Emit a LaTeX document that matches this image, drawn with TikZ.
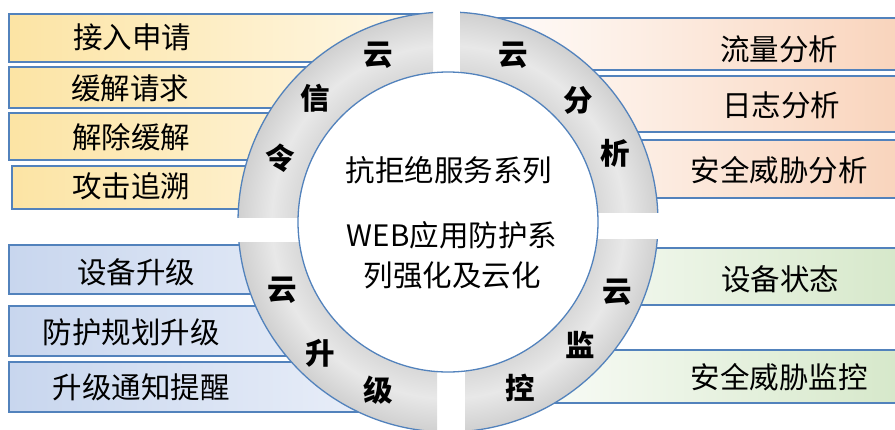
\documentclass[tikz,border=0pt]{standalone}
\usepackage{fontspec}
\setmainfont{Noto Sans CJK SC}
\definecolor{bord}{HTML}{5282BC}
\definecolor{ylw}{HTML}{FCE4A4}
\definecolor{ylwl}{HTML}{FFF8E8}
\definecolor{blu}{HTML}{C8D6EE}
\definecolor{blul}{HTML}{EEF2FA}
\definecolor{org}{HTML}{F9D4BC}
\definecolor{grn}{HTML}{D6E8CA}
\definecolor{ringA}{HTML}{FFFFFF}
\definecolor{ringB}{HTML}{D8D8D8}
\definecolor{ringM}{HTML}{E8E8E8}
\definecolor{ringC}{HTML}{D0D0D0}
\pgfdeclareradialshading{ringshade}{\pgfpoint{0bp}{0bp}}{color(0bp)=(ringA); color(17.5bp)=(ringA); color(17.8bp)=(ringB); color(21bp)=(ringM); color(25bp)=(ringC); color(50bp)=(ringC)}
\tikzset{
  boxline/.style={draw=bord, line width=1.3pt},
  ybox/.style={boxline, left color=ylw, middle color=ylw, right color=ylwl},
  bbox/.style={boxline, left color=blu, middle color=blu, right color=blul},
  obox/.style={boxline, left color=white, middle color=org, right color=org},
  gbox/.style={boxline, left color=white, middle color=grn, right color=grn},
  lbl/.style={inner sep=0pt, font=\fontsize{29.5}{30}\selectfont, text=black},
  ringlbl/.style={inner sep=0pt, font=\fontsize{29.5}{30}\selectfont\bfseries, text=black},
}
\begin{document}
\begin{tikzpicture}[x=1pt,y=-1pt]
\useasboundingbox (0,0) rectangle (895,429);
\coordinate (C) at (448,222);
% boxes
\path[ybox] (9,14) rectangle (430,62);
\path[ybox] (9,67) rectangle (430,108);
\path[ybox] (9,113) rectangle (430,160);
\path[ybox] (12,166) rectangle (430,209);
\path[bbox] (9,245) rectangle (430,294);
\path[bbox] (9,306) rectangle (430,356);
\path[bbox] (9,362) rectangle (430,412);
\path[obox] (463,18) rectangle (900,70);
\path[obox] (463,76) rectangle (900,132);
\path[obox] (463,140) rectangle (900,198);
\path[gbox] (468,248) rectangle (900,305);
\path[gbox] (468,350) rectangle (900,403);
% ring quadrants
\begin{scope}
  \clip (0,0) rectangle (433,217);
  \shade[shading=ringshade] (C) circle[radius=210];
  \draw[bord, line width=1.3pt] (C) circle[radius=210];
\end{scope}
\begin{scope}
  \clip (460,0) rectangle (900,212);
  \shade[shading=ringshade] (C) circle[radius=210];
  \draw[bord, line width=1.3pt] (C) circle[radius=210];
\end{scope}
\begin{scope}
  \clip (0,242) rectangle (437,440);
  \shade[shading=ringshade] (C) circle[radius=210];
  \draw[bord, line width=1.3pt] (C) circle[radius=210];
\end{scope}
\begin{scope}
  \clip (465,239) rectangle (900,440);
  \shade[shading=ringshade] (C) circle[radius=210];
  \draw[bord, line width=1.3pt] (C) circle[radius=210];
\end{scope}
\draw[bord, line width=1.3pt, fill=white] (C) circle[radius=150];
% box labels
\node[lbl] (t1) at (132,37) {接入申请};
\node[lbl] (t2) at (130,88) {缓解请求};
\node[lbl] (t3) at (131,137) {解除缓解};
\node[lbl] (t4) at (131,186) {攻击追溯};
\node[lbl] (t5) at (136,272) {设备升级};
\node[lbl] (t6) at (131,332) {防护规划升级};
\node[lbl] (t7) at (141,387) {升级通知提醒};
\node[lbl] (t8) at (779,49) {流量分析};
\node[lbl] (t9) at (781,105) {日志分析};
\node[lbl] (t10) at (779,170) {安全威胁分析};
\node[lbl] (t11) at (780,279) {设备状态};
\node[lbl] (t12) at (779,377) {安全威胁监控};
% ring labels
\node[ringlbl] (r1) at (378,55) {云};
\node[ringlbl] (r2) at (315,98) {信};
\node[ringlbl] (r3) at (280,158) {令};
\node[ringlbl] (r4) at (513,55) {云};
\node[ringlbl] (r5) at (578,100) {分};
\node[ringlbl] (r6) at (615,153) {析};
\node[ringlbl] (r7) at (282,290) {云};
\node[ringlbl] (r8) at (320,353) {升};
\node[ringlbl] (r9) at (378,390) {级};
\node[ringlbl] (r10) at (617,292) {云};
\node[ringlbl] (r11) at (580,345) {监};
\node[ringlbl] (r12) at (520,388) {控};
% centre text
\node[lbl] (c1) at (449,170) {抗拒绝服务系列};
\node[lbl] (c2) at (452,235) {WEB应用防护系};
\node[lbl] (c3) at (452,275) {列强化及云化};
\end{tikzpicture}
\end{document}
